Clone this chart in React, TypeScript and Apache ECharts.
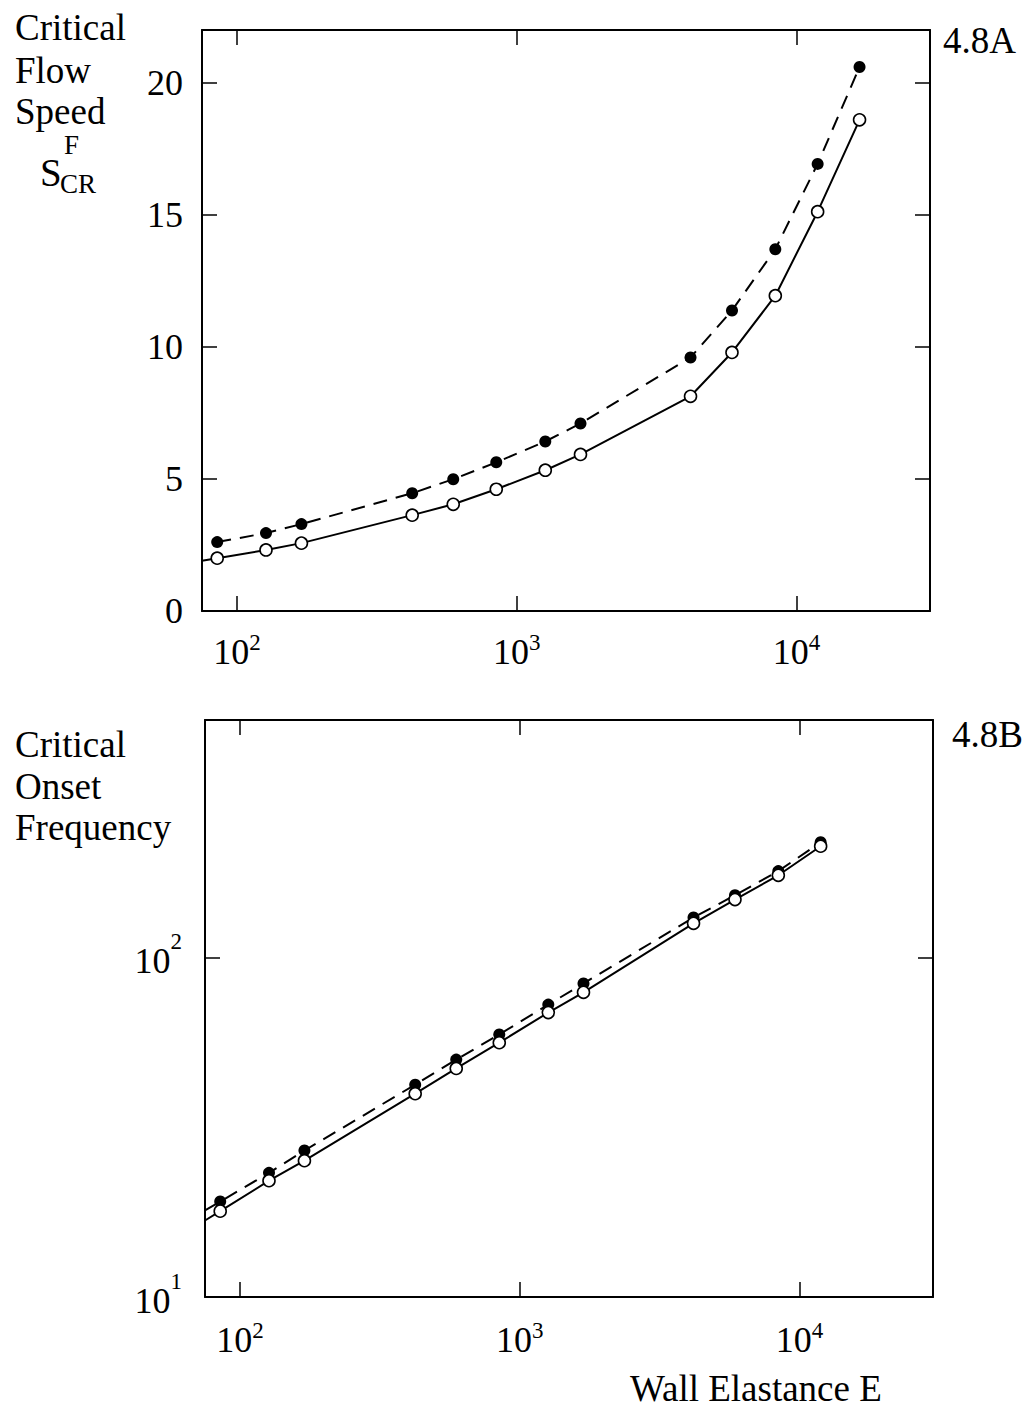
import React, { useEffect, useRef } from 'react';
import * as echarts from 'echarts';

const FONT = "'Liberation Serif', 'Times New Roman', serif";

// Wall elastance E (shared x values)
const elastance = [85, 127, 170, 423, 593, 845, 1265, 1690, 4180, 5880, 8400, 11900, 16800];
// Panel 4.8A: critical flow speed
const speedOpen = [2.0, 2.31, 2.57, 3.63, 4.04, 4.61, 5.33, 5.93, 8.13, 9.79, 11.94, 15.12, 18.6];
const speedFilled = [2.61, 2.95, 3.29, 4.46, 4.99, 5.63, 6.42, 7.1, 9.6, 11.38, 13.7, 16.93, 20.6];
const speedOpenLeadIn = [75, 1.9];
// Panel 4.8B: critical onset frequency (12 points)
const freqOpen = [17.9, 22.0, 25.2, 39.7, 47.1, 56.1, 68.8, 78.9, 126, 148, 174.5, 212.5];
const freqFilled = [19.1, 23.2, 27.0, 42.2, 50.0, 59.3, 72.6, 83.8, 131, 152.4, 179.5, 218.3];
const freqOpenLeadIn = [75, 16.8];
const freqFilledLeadIn = [75, 18.0];
// axis ranges
const xRange = [75, 30000];
const speedRange = [0, 22];
const speedInterval = 5;
const freqRange = [10, 500];

const pairs = (xs: number[], ys: number[]) => ys.map((y, i) => [xs[i], y]);

const pow10 = (v: number) => {
  const l = Math.log10(v);
  const e = Math.round(l);
  return Math.abs(l - e) < 1e-6 ? `{b|10}{s|${e}}` : '';
};

const richX = {
  b: { fontFamily: FONT, fontSize: 36, lineHeight: 36, height: 36, verticalAlign: 'bottom', color: '#000' },
  s: { fontFamily: FONT, fontSize: 23, height: 16, verticalAlign: 'top', color: '#000' },
};
const richY = {
  b: { fontFamily: FONT, fontSize: 36, lineHeight: 44, height: 36, verticalAlign: 'bottom', color: '#000' },
  s: { fontFamily: FONT, fontSize: 23, height: 12, verticalAlign: 'top', color: '#000' },
};

const axisLine = { show: true, onZero: false, lineStyle: { color: '#000', width: 2 } };
const tick = { show: true, inside: true, length: 15, lineStyle: { color: '#000', width: 1.5 } };

function xAxisDef(gridIndex: number, position: string, showLabel: boolean, margin = 25) {
  return {
    type: 'log',
    logBase: 10,
    gridIndex,
    position,
    min: xRange[0],
    max: xRange[1],
    axisLine,
    axisTick: tick,
    splitLine: { show: false },
    minorTick: { show: false },
    axisLabel: {
      show: showLabel,
      margin,
      formatter: pow10,
      rich: richX,
      showMinLabel: false,
      showMaxLabel: false,
    },
  };
}

export default function App() {
  const ref = useRef<HTMLDivElement>(null);
  useEffect(() => {
    document.body.style.margin = '0';
    if (!ref.current) return;
    const chart = echarts.init(ref.current, undefined, { renderer: 'svg' });

    const title = (text: string, x: number, y: number, size = 37) => ({
      type: 'text',
      x,
      y,
      style: {
        text,
        fontFamily: FONT,
        fontSize: size,
        fill: '#000',
        align: 'left',
        verticalAlign: 'middle',
        textAlign: 'left',
        textVerticalAlign: 'middle',
      },
    });

    const lineSeries = (axisIndex: number, data: any[], filled: boolean) => ({
      type: 'line',
      xAxisIndex: axisIndex,
      yAxisIndex: axisIndex,
      data,
      symbol: 'circle',
      symbolSize: 12,
      showAllSymbol: true,
      itemStyle: filled
        ? { color: '#000' }
        : { color: '#fff', borderColor: '#000', borderWidth: 1.6 },
      lineStyle: filled
        ? { color: '#000', width: 2, type: [14, 9] }
        : { color: '#000', width: 2 },
      z: filled ? 2 : 3,
    });

    const option: any = {
      animation: false,
      backgroundColor: '#fff',
      grid: [
        { left: 202, top: 30, width: 728, height: 581, outerBoundsMode: 'none' },
        { left: 205, top: 720, width: 728, height: 577, outerBoundsMode: 'none' },
      ],
      xAxis: [
        xAxisDef(0, 'bottom', true, 23),
        xAxisDef(0, 'top', false),
        xAxisDef(1, 'bottom', true, 25),
        xAxisDef(1, 'top', false),
      ],
      yAxis: [
        {
          type: 'value',
          gridIndex: 0,
          position: 'left',
          min: speedRange[0],
          max: speedRange[1],
          interval: speedInterval,
          axisLine,
          axisTick: tick,
          splitLine: { show: false },
          axisLabel: {
            margin: 19,
            fontFamily: FONT,
            fontSize: 36,
            color: '#000',
            showMinLabel: true,
            showMaxLabel: false,
            formatter: (v: number) => (v % speedInterval === 0 ? String(v) : ''),
          },
        },
        {
          type: 'value',
          gridIndex: 0,
          position: 'right',
          min: speedRange[0],
          max: speedRange[1],
          interval: speedInterval,
          axisLine,
          axisTick: tick,
          splitLine: { show: false },
          axisLabel: { show: false },
        },
        {
          type: 'log',
          logBase: 10,
          gridIndex: 1,
          position: 'left',
          min: freqRange[0],
          max: freqRange[1],
          axisLine,
          axisTick: tick,
          splitLine: { show: false },
          minorTick: { show: false },
          axisLabel: {
            margin: 23,
            formatter: pow10,
            rich: richY,
            showMinLabel: true,
            showMaxLabel: false,
          },
        },
        {
          type: 'log',
          logBase: 10,
          gridIndex: 1,
          position: 'right',
          min: freqRange[0],
          max: freqRange[1],
          axisLine,
          axisTick: tick,
          splitLine: { show: false },
          minorTick: { show: false },
          axisLabel: { show: false },
        },
      ],
      series: [
        lineSeries(0, pairs(elastance, speedFilled), true),
        lineSeries(0, [{ value: speedOpenLeadIn, symbol: 'none' }, ...pairs(elastance, speedOpen)], false),
        lineSeries(2, [{ value: freqFilledLeadIn, symbol: 'none' }, ...pairs(elastance, freqFilled)], true),
        lineSeries(2, [{ value: freqOpenLeadIn, symbol: 'none' }, ...pairs(elastance, freqOpen)], false),
      ],
      graphic: [
        title('Critical', 15, 27),
        title('Flow', 15, 70),
        title('Speed', 15, 111),
        title('S', 40, 172, 39),
        title('F', 64, 145, 27),
        title('CR', 60, 184, 27),
        title('4.8A', 943, 40),
        title('Critical', 15, 744),
        title('Onset', 15, 786),
        title('Frequency', 15, 827),
        title('4.8B', 952, 734),
        title('Wall Elastance E', 630, 1388),
      ],
    };
    chart.setOption(option);
    return () => chart.dispose();
  }, []);
  return <div ref={ref} style={{ width: 1024, height: 1410 }} />;
}
